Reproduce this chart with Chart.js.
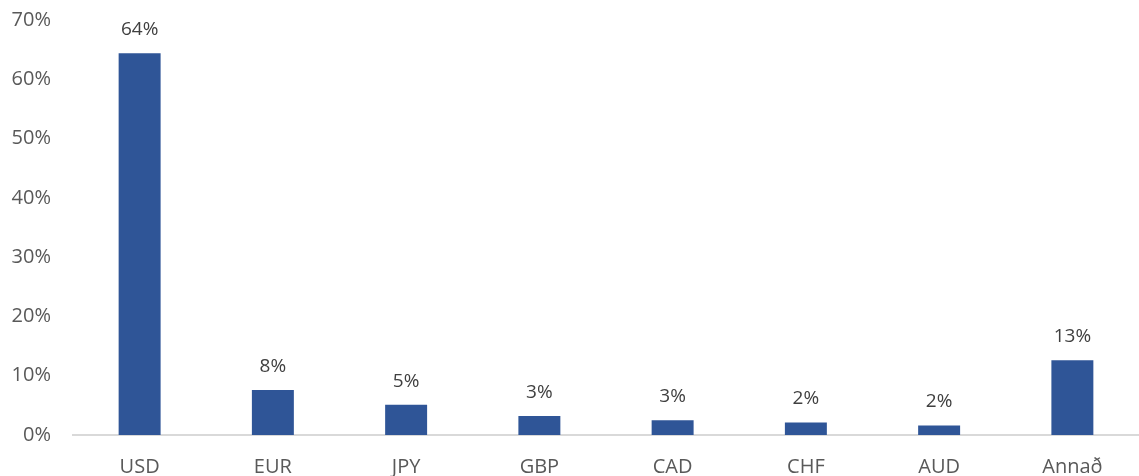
<!DOCTYPE html>
<html>
<head>
<meta charset="utf-8">
<script src="https://cdn.jsdelivr.net/npm/chart.js@4"></script>
<style>
  html, body { margin: 0; padding: 0; background: #fff; }
  #wrap { width: 1139px; height: 476px; }
</style>
</head>
<body>
<div id="wrap"><canvas id="fxChart"></canvas></div>
<script>
const currencies = ["USD", "EUR", "JPY", "GBP", "CAD", "CHF", "AUD", "Annað"];
const shares = [64.4, 7.6, 5.1, 3.2, 2.5, 2.1, 1.6, 12.6];
const shareLabels = ["64%", "8%", "5%", "3%", "3%", "2%", "2%", "13%"];
const yTicks = [0, 10, 20, 30, 40, 50, 60, 70];

const fontFamily = "'Open Sans', 'Liberation Sans', sans-serif";

// draw the percentage above each bar
const barLabels = {
  id: "barLabels",
  afterDatasetsDraw(chart) {
    const ctx = chart.ctx;
    const meta = chart.getDatasetMeta(0);
    ctx.save();
    ctx.fillStyle = "#404040";
    ctx.font = "19px " + fontFamily;
    ctx.textAlign = "center";
    ctx.textBaseline = "bottom";
    meta.data.forEach((bar, i) => {
      ctx.fillText(shareLabels[i], bar.x, bar.y - 14);
    });
    ctx.restore();
  }
};

new Chart(document.getElementById("fxChart"), {
  type: "bar",
  data: {
    labels: currencies,
    datasets: [{
      data: shares,
      backgroundColor: "#2F5597",
      categoryPercentage: 1,
      barPercentage: 0.315
    }]
  },
  options: {
    responsive: true,
    maintainAspectRatio: false,
    animation: false,
    layout: { padding: { top: 20, right: 0, bottom: 0, left: 0 } },
    plugins: { legend: { display: false }, tooltip: { enabled: false } },
    scales: {
      x: {
        grid: { display: false, drawTicks: false },
        border: { display: true, color: "#d9d9d9", width: 2 },
        ticks: { color: "#595959", font: { size: 20, family: fontFamily }, padding: 20 },
        afterFit: s => { s.height = 41; }
      },
      y: {
        min: 0,
        max: 70,
        afterBuildTicks: s => { s.ticks = yTicks.map(v => ({ value: v })); },
        grid: { display: false, drawTicks: false },
        border: { display: false },
        ticks: {
          color: "#595959",
          font: { size: 20, family: fontFamily },
          padding: 22,
          callback: v => v + "%"
        },
        afterFit: s => { s.width = 73; s.paddingTop = 0; s.paddingBottom = 0; }
      }
    }
  },
  plugins: [barLabels]
});
</script>
</body>
</html>
